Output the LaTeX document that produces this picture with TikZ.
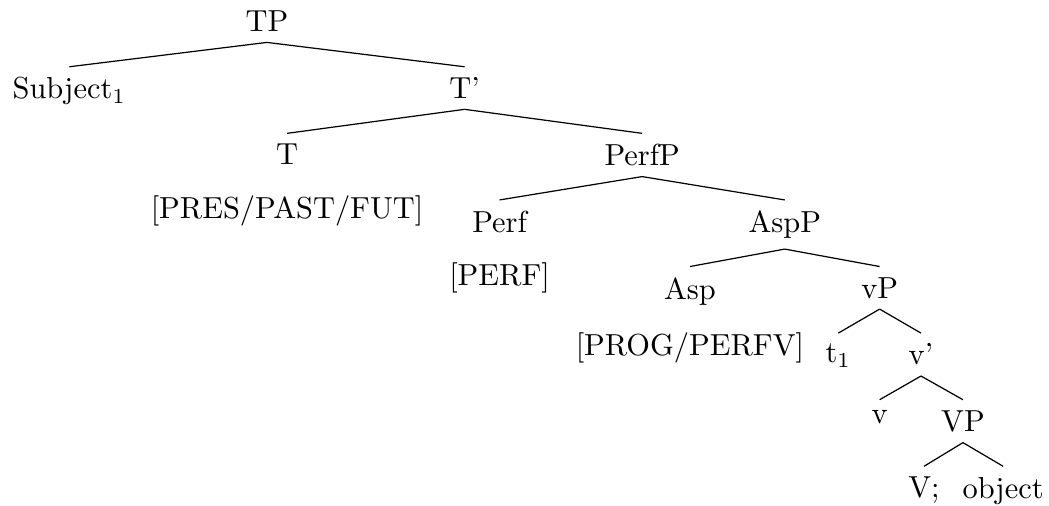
\documentclass[tikz,border=0pt]{standalone}
\usepackage{tikz}
\usetikzlibrary{positioning}

\begin{document}
\begin{tikzpicture}[every node/.style={inner sep=3.33pt}]
\useasboundingbox (-87.8pt,7pt) rectangle (257.2pt,-159.4pt);

\node(TP) at (0,0){TP};
\node[below=21.9pt of TP.north, xshift=-65pt](SUBJ){Subject$_1$};
\node[below=21.9pt of TP.north, xshift=65pt](TB){T'};

\draw (TP.south) -- (SUBJ.north);
\draw (TP.south) -- (TB.north);

\node[below=21.9pt of TB.north, xshift=-58.4pt](T){T};
\node[below=21.9pt of TB.north, xshift=58.4pt](PERFP){PerfP};
\node[below of=T, node distance=18.6pt](TL){[PRES/PAST/FUT]};

\draw (TB.south) -- (T.north);
\draw (TB.south) -- (PERFP.north);

\node[below=21.9pt of PERFP.north, xshift=-46.9pt](PERF){Perf};
\node[below=21.9pt of PERFP.north, xshift=46.9pt](ASPP){AspP};
\node[below of=PERF, node distance=18.6pt](PERFL){[PERF]};

\draw (PERFP.south) -- (PERF.north);
\draw (PERFP.south) -- (ASPP.north);

\node[below=21.9pt of ASPP.north, xshift=-31.2pt](ASP){Asp};
\node[below=21.9pt of ASPP.north, xshift=31.2pt](VLP){vP};
\node[below of=ASP, node distance=18.6pt](ASPL){[PROG/PERFV]};

\draw (ASPP.south) -- (ASP.north);
\draw (ASPP.south) -- (VLP.north);

\node[below=21.9pt of VLP.north, xshift=-13.6pt](TR){t$_1$};
\node[below=21.9pt of VLP.north, xshift=13.6pt](VB){v'};

\draw (VLP.south) -- (TR.north);
\draw (VLP.south) -- (VB.north);

\node[below=21.9pt of VB.north, xshift=-13.6pt](VL){v};
\node[below=21.9pt of VB.north, xshift=13.8pt](VP){VP};

\draw (VB.south) -- (VL.north);
\draw (VB.south) -- (VP.north);

\node[below=21.9pt of VP.north, xshift=-12.8pt](VV){V;};
\node[below=21.9pt of VP.north, xshift=13.2pt](OBJ){object};

\draw (VP.south) -- (VV.north);
\draw (VP.south) -- (OBJ.north);
\end{tikzpicture}
\end{document}
